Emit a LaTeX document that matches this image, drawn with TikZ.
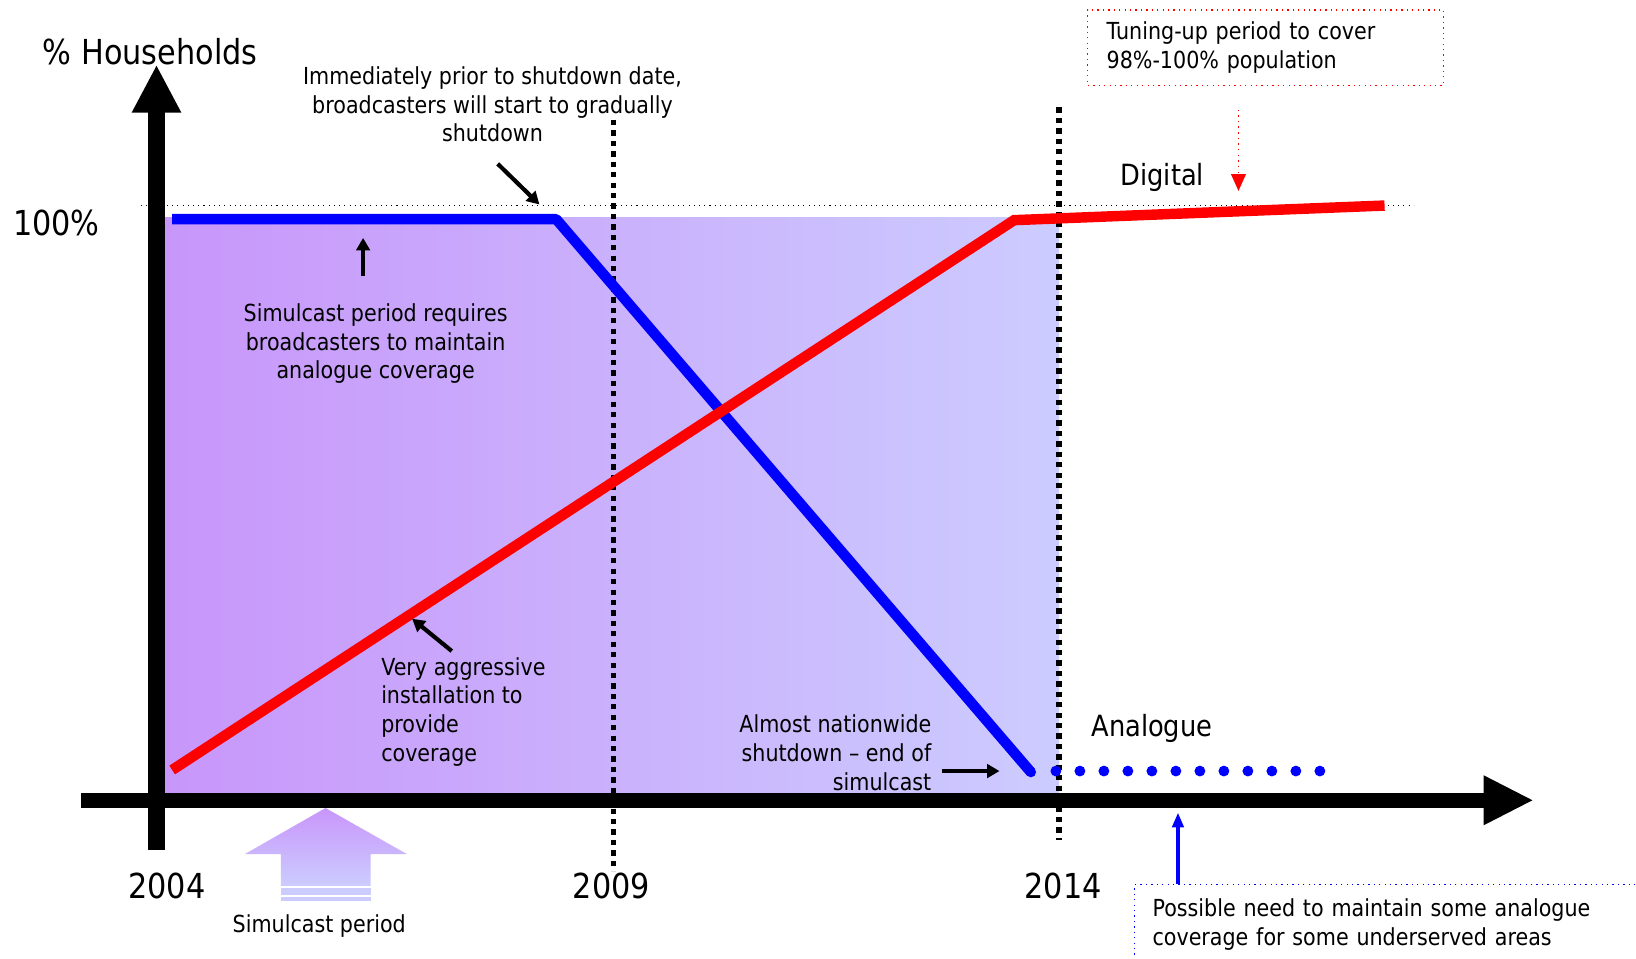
\documentclass[tikz,border=0pt]{standalone}
\usepackage{fontspec}
\setmainfont{DejaVu Sans}[FakeStretch=0.88]
\usetikzlibrary{arrows.meta}
\definecolor{shadeL}{RGB}{200,150,250}
\definecolor{shadeR}{RGB}{204,204,255}
\definecolor{pureblue}{RGB}{0,0,255}
\definecolor{purered}{RGB}{255,0,0}
\begin{document}
\begin{tikzpicture}[x=0.5pt,y=-0.5pt,
  big/.style={font=\fontsize{16.5pt}{19pt}\selectfont, inner sep=0pt},
  mid/.style={font=\fontsize{14pt}{16pt}\selectfont, inner sep=0pt},
  txt/.style={font=\fontsize{11.25pt}{13.75pt}\selectfont, inner sep=0pt},
  vdots/.style={line width=2.5pt, dash pattern=on 2.5pt off 2.5pt},
  ann/.style={line width=2pt, -{Triangle[length=6pt,width=6.5pt]}},
  curve/.style={line width=5pt},
]
\useasboundingbox (0,0) rectangle (1568,919);
\fill[white] (0,0) rectangle (1568,919);

% shaded simulcast area
\shade[left color=shadeL, right color=shadeR] (157,208) rectangle (1015,760);

% 100% reference line
\draw[dotted, line width=0.5pt] (135,197) -- (1355,197);

% year markers
\draw[vdots] (588,115) -- (588,835);
\draw[vdots] (1015,103) -- (1015,805);

% axes
\draw[line width=8pt, -{Triangle[length=23pt,width=22pt]}] (150,815) -- (150,62);
\draw[line width=7pt, -{Triangle[length=24pt,width=22pt]}] (78,767) -- (1470,767);

% analogue curve
\draw[pureblue, curve, line join=round] (165,210) -- (533,210) -- (988,740);
\fill[pureblue] (988,740) circle (2.5pt);
\foreach \i in {0,...,11} \fill[pureblue] ({1012+23*\i},739) circle (2.6pt);

% digital curve
\draw[purered, curve] (165,738) -- (972,211) -- (1327,197);

% axis labels
\node[big] (yl) at (144,50) {\% Households};
\node[big] (p100) at (54,214) {100\%};
\node[big] (y2004) at (160,849) {2004};
\node[big] (y2009) at (586,849) {2009};
\node[big] (y2014) at (1019,849) {2014};
\node[mid] (dig) at (1114,170) {Digital};
\node[mid] (ana) at (1104,698) {Analogue};

% annotations
\node[txt, align=center] (imm) at (472,100) {Immediately prior to shutdown date,\\broadcasters will start to gradually\\shutdown};
\coordinate (a1s) at (477,157); \coordinate (a1e) at (517,196);
\draw[ann] (a1s) -- (a1e);

\node[txt, align=center] (sim) at (360,329.5) {Simulcast period requires\\broadcasters to maintain\\analogue coverage};
\coordinate (a2s) at (348,265); \coordinate (a2e) at (348,228);
\draw[ann] (a2s) -- (a2e);

\node[txt, align=left, anchor=west] (agg) at (365,682) {Very aggressive\\installation to\\provide\\coverage};
\coordinate (a3s) at (433,624); \coordinate (a3e) at (395,593);
\draw[ann] (a3s) -- (a3e);

\node[txt, align=right, anchor=east] (alm) at (893,721.5) {Almost nationwide\\shutdown -- end of\\simulcast};
\coordinate (a4s) at (903,739); \coordinate (a4e) at (958,739);
\draw[ann] (a4s) -- (a4e);

% tuning-up box
\node[txt, draw=purered, dotted, line width=0.6pt, anchor=north west, align=left,
      text width=152.5pt, inner xsep=9pt, inner ysep=0pt, minimum height=36pt] (tune) at (1042,9)
      {Tuning-up period to cover\\98\%-100\% population};
\coordinate (a5s) at (1187,105); \coordinate (a5e) at (1187,183);
\draw[purered, dotted, line width=0.7pt, -{Triangle[length=8pt,width=7pt]}] (a5s) -- (a5e);

% underserved areas box
\node[txt, draw=pureblue, dotted, line width=0.6pt, anchor=north west, align=left,
      text width=234.5pt, inner xsep=8.5pt, inner ysep=0pt, minimum height=38.5pt] (poss) at (1087,847)
      {Possible need to maintain some analogue\\coverage for some underserved areas};
\coordinate (a6s) at (1129,847); \coordinate (a6e) at (1129,779);
\draw[pureblue, line width=1.5pt, -{Triangle[length=7pt,width=5.5pt]}] (a6s) -- (a6e);

% simulcast period arrow
\shade[top color=shadeL, bottom color=shadeR] (312,774.4) -- (389.8,818.5) -- (355.3,818.5) -- (355.3,849) -- (269.3,849) -- (269.3,818.5) -- (234.8,818.5) -- cycle;
\fill[shadeR] (269.3,850.8) rectangle (355.3,857.8);
\fill[shadeR] (269.3,859.4) rectangle (355.3,863.2);
\node[txt] (simp) at (306,888) {Simulcast period};
\end{tikzpicture}
\end{document}
